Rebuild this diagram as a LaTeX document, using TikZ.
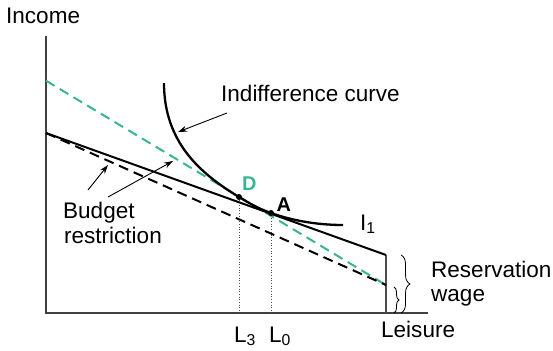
\documentclass[tikz,border=0pt]{standalone}
\usepackage{fontspec}
\setmainfont{Liberation Sans}
\usetikzlibrary{decorations.pathreplacing,arrows.meta}
\definecolor{teal1}{RGB}{56,182,143}
\begin{document}
\begin{tikzpicture}[x=1bp,y=-1bp,
  lbl/.style={anchor=base west,inner sep=0pt,font=\fontsize{22.6}{24}\selectfont},
  axis/.style={draw=black!75,line width=1.1bp},
  thick1/.style={line width=2bp},
  dash1/.style={line width=2bp,dash pattern=on 10bp off 6bp},
  ptr/.style={line width=0.9bp,-{Stealth[length=9bp,width=6bp]}},
  guide/.style={draw=black!70,line width=0.7bp,dotted},
  dot/.style={circle,fill=black,inner sep=0pt,minimum size=6bp},
  brc/.style={decorate,line width=0.8bp}]
\useasboundingbox (0,0) rectangle (553,350);
% coordinates
\coordinate (Ytop) at (46,36);
\coordinate (O) at (46,313);
\coordinate (Xend) at (428,313);
\coordinate (S0) at (46,133);
\coordinate (S1) at (386,255);
\coordinate (G0) at (46,80.7);
\coordinate (G1) at (386,285);
\coordinate (R0) at (386,313);
\coordinate (D3) at (239,313);
\coordinate (A0) at (271,313);
\coordinate (Ic0) at (164,83);
\coordinate (Ic1) at (343,225);
% axes
\draw[axis] (Ytop) -- (O) -- (Xend);
\draw[draw=black!70,line width=1.4bp] (S1) -- (R0);
% dotted guides
\draw[guide] (239,197) -- (D3);
\draw[guide] (271,213) -- (A0);
% budget lines
\draw[dash1,teal1] (G0) -- (G1);
\draw[dash1] (S0) -- (G1);
\draw[thick1] (S0) -- (S1);
% indifference curve
\draw[line width=2.3bp] (Ic0) .. controls (164,142) and (200,173.5) .. (239,197)
  .. controls (255,206.6) and (260,209) .. (271,213)
  .. controls (290,219.8) and (315,225) .. (Ic1);
% points
\node[dot] (Dp) at (239,197) {};
\node[dot] (Ap) at (271,213) {};
% braces
\draw[brc,decoration={brace,amplitude=9bp}] (401,255) -- (401,313);
\draw[brc,decoration={brace,amplitude=5bp}] (394,287) -- (394,313);
% labels
\node[lbl] (inc) at (6,23) {Income};
\node[lbl] (ind) at (221,101) {Indifference curve};
\node[lbl] (bud) at (63,218) {Budget};
\node[lbl] (res) at (64,243) {restriction};
\node[lbl] (rw1) at (431,277) {Reservation};
\node[lbl] (rw2) at (431,301) {wage};
\node[lbl] (lei) at (381,337) {Leisure};
\node[lbl] (l3) at (234,342) {L\textsubscript{3}};
\node[lbl] (l0) at (269,342) {L\textsubscript{0}};
\node[lbl,text=teal1,font=\fontsize{20}{22}\selectfont\bfseries] (dl) at (242,190) {D};
\node[lbl,font=\fontsize{20}{22}\selectfont\bfseries] (al) at (276.5,211) {A};
\node[lbl] (i1) at (360,230) {I\textsubscript{1}};
% pointers
\coordinate (pi) at (178,132);
\coordinate (pb1) at (108,165);
\coordinate (pb2) at (173,161);
\draw[ptr] (227,113) -- (pi);
\draw[ptr] (88,190) -- (pb1);
\draw[ptr] (108,197) -- (pb2);
\end{tikzpicture}
\end{document}
